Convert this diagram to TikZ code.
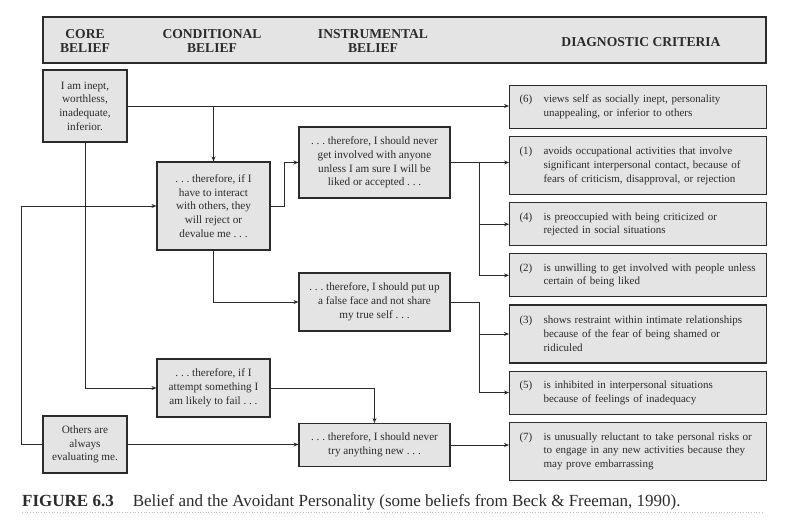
\documentclass[tikz,border=0pt]{standalone}
\usepackage{fontspec}
\setmainfont{Liberation Serif}
\usetikzlibrary{arrows.meta, positioning}
\usepackage{xcolor}
\definecolor{boxgray}{HTML}{E4E4E4}
\definecolor{ink}{HTML}{2B2B2B}
\frenchspacing
\newcommand{\critem}[2]{\noindent\makebox[24pt][l]{#1}\parbox[t]{213pt}{#2}}

\begin{document}
\begin{tikzpicture}[
    x=1pt, y=-1pt,
    belief/.style={draw=ink, line width=1.1pt, fill=boxgray, text=ink, inner sep=0pt, align=center, font=\fontsize{11.2}{13.75}\selectfont},
    crit/.style={draw=ink, line width=1.1pt, fill=boxgray, text=ink, text width=237pt, inner xsep=10pt, inner ysep=0pt, align=left, font=\fontsize{11}{13.75}\selectfont},
    crit2/.style={crit, minimum height=43pt},
    crit3/.style={crit, minimum height=58pt},
    colhead/.style={text=ink, align=center, font=\fontsize{13.6}{13.5}\selectfont\bfseries},
    arr/.style={-{Stealth[length=5pt, width=4pt]}, line width=0.8pt, draw=ink},
]
\useasboundingbox (0,0) rectangle (789,522);

% Header bar
\node[draw=ink, line width=1.1pt, fill=boxgray, minimum width=723pt, minimum height=46pt, inner sep=0pt] (head) at (404.5,40) {};
\node[colhead] (hcore) at (85,41) {CORE\\BELIEF};
\node[colhead] (hcond) at (212,41) {CONDITIONAL\\BELIEF};
\node[colhead] (hinst) at (373,41) {INSTRUMENTAL\\BELIEF};
\node[colhead] (hdiag) at (641,42) {DIAGNOSTIC CRITERIA};

% Core beliefs
\node[belief, minimum width=84pt, minimum height=72pt] (core1) at (85,106) {I am inept,\\worthless,\\inadequate,\\inferior.};
\node[belief, minimum width=84pt, minimum height=57pt] (core2) at (85,444.5) {Others are\\always\\evaluating me.};

% Conditional beliefs
\node[belief, minimum width=113pt, minimum height=88pt] (cond1) at (213.5,206) {. . . therefore, if I\\have to interact\\with others, they\\will reject or\\devalue me . . .};
\node[belief, minimum width=113pt, minimum height=58pt] (cond2) at (213.5,388) {. . . therefore, if I\\attempt something I\\am likely to fail . . .};

% Instrumental beliefs
\node[belief, minimum width=151pt, minimum height=71pt] (inst1) at (374.5,162.5) {. . . therefore, I should never\\get involved with anyone\\unless I am sure I will be\\liked or accepted . . .};
\node[belief, minimum width=151pt, minimum height=58pt] (inst2) at (374.5,302) {. . . therefore, I should put up\\a false face and not share\\my true self . . .};
\node[belief, minimum width=151pt, minimum height=43pt] (inst3) at (374.5,445) {. . . therefore, I should never\\try anything new . . .};

% Diagnostic criteria
\node[crit2, anchor=north west] (d6) at (509,85) {\critem{(6)}{views self as socially inept, personality\\unappealing, or inferior to others}};
\node[crit3, below=7pt of d6] (d1) {\critem{(1)}{avoids occupational activities that involve\\significant interpersonal contact, because of\\fears of criticism, disapproval, or rejection}};
\node[crit2, below=7pt of d1] (d4) {\critem{(4)}{is preoccupied with being criticized or\\rejected in social situations}};
\node[crit2, below=7pt of d4] (d2) {\critem{(2)}{is unwilling to get involved with people unless\\certain of being liked}};
\node[crit3, below=7pt of d2] (d3) {\critem{(3)}{shows restraint within intimate relationships\\because of the fear of being shamed or\\ridiculed}};
\node[crit2, below=7pt of d3] (d5) {\critem{(5)}{is inhibited in interpersonal situations\\because of feelings of inadequacy}};
\node[crit3, below=7pt of d5] (d7) {\critem{(7)}{is unusually reluctant to take personal risks or\\to engage in any new activities because they\\may prove embarrassing}};

% Connectors
\draw[arr] (core1.east) -- (core1.east -| d6.west);
\draw[arr] (core1.east -| cond1.north) -- (cond1.north);
\draw[arr] (core1.south) |- (cond2.west);
\draw[arr] (core2.west) -- ++(-21,0) |- (cond1.west);
\draw[arr] (core2.east) -- (core2.east -| inst3.west);
\draw[arr] (cond1.east) -- ++(14,0) |- (inst1.west);
\draw[arr] (cond1.south) |- (inst2.west);
\draw[arr] (cond2.east) -| (inst3.north);

\coordinate[right=29pt of inst1.east] (j1);
\draw[arr] (inst1.east) -- (inst1.east -| d1.west);
\draw[arr] (j1) |- (d4.west);
\draw[arr] (j1) |- (d2.west);

\coordinate[right=29pt of inst2.east] (j2);
\draw[line width=0.8pt, draw=ink] (inst2.east) -- (j2);
\draw[arr] (j2) |- (d3.west);
\draw[arr] (j2) |- (d5.west);

\draw[arr] (inst3.east) -- (inst3.east -| d7.west);

% Caption
\node[anchor=west, inner sep=0pt, text=ink, font=\fontsize{17}{19}\selectfont] (cap) at (22,502) {\textbf{FIGURE 6.3}\hspace{19pt}Belief and the Avoidant Personality (some beliefs from Beck \& Freeman, 1990).};
\draw[black!25, dotted, line width=0.7pt] (22,512) -- (763,512);

\end{tikzpicture}
\end{document}
